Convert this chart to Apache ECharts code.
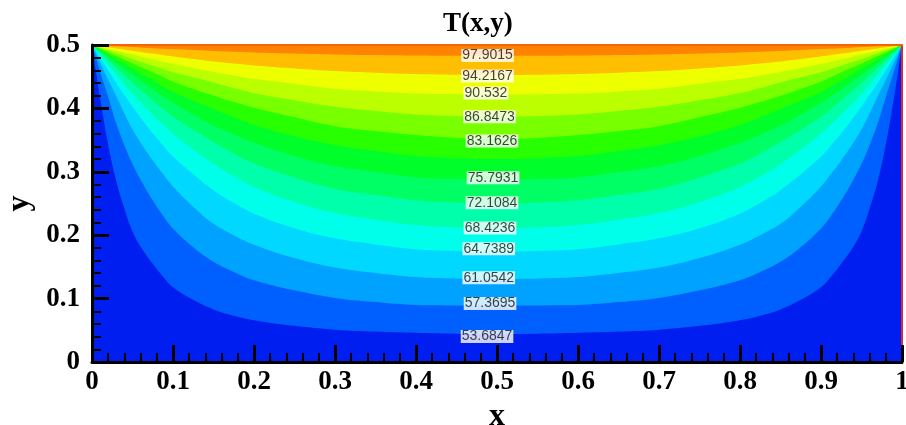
<!DOCTYPE html>
<html>
<head>
<meta charset="utf-8">
<script src="https://cdn.jsdelivr.net/npm/echarts@6/dist/echarts.min.js"></script>
<style>
html,body{margin:0;padding:0;background:#fff;}
#chart{width:906px;height:425px;}
</style>
</head>
<body>
<div id="chart"></div>
<script>
// x positions where each contour line is sampled
const xs = [0, 0.005, 0.01, 0.02, 0.03, 0.04, 0.05, 0.0625, 0.075, 0.0875, 0.1, 0.125, 0.15, 0.175, 0.2, 0.25, 0.3, 0.35, 0.4, 0.45, 0.5, 0.55, 0.6, 0.65, 0.7, 0.75, 0.8, 0.825, 0.85, 0.875, 0.9, 0.9125, 0.925, 0.9375, 0.95, 0.96, 0.97, 0.98, 0.99, 0.995, 1];

// y of each contour level at xs
const t97 = [0.5, 0.4997, 0.4993, 0.4987, 0.498, 0.4973, 0.4967, 0.4958, 0.495, 0.4942, 0.4935, 0.492, 0.4906, 0.4894, 0.4883, 0.4866, 0.4851, 0.4841, 0.4833, 0.4829, 0.4828, 0.4829, 0.4833, 0.4841, 0.4851, 0.4866, 0.4883, 0.4894, 0.4906, 0.492, 0.4935, 0.4942, 0.495, 0.4958, 0.4967, 0.4973, 0.498, 0.4987, 0.4993, 0.4997, 0.5];
const t94 = [0.5, 0.4991, 0.4982, 0.4963, 0.4945, 0.4927, 0.491, 0.4887, 0.4865, 0.4842, 0.482, 0.478, 0.4741, 0.4708, 0.4677, 0.463, 0.4589, 0.4563, 0.4541, 0.453, 0.4526, 0.453, 0.4541, 0.4563, 0.4589, 0.463, 0.4677, 0.4708, 0.4741, 0.478, 0.482, 0.4842, 0.4865, 0.4887, 0.491, 0.4927, 0.4945, 0.4963, 0.4982, 0.4991, 0.5];
const t90 = [0.5, 0.4985, 0.4969, 0.4939, 0.4908, 0.4879, 0.485, 0.481, 0.477, 0.4735, 0.470, 0.4637, 0.4576, 0.452, 0.4467, 0.439, 0.431, 0.4268, 0.4235, 0.4225, 0.422, 0.4225, 0.4235, 0.4268, 0.431, 0.439, 0.4467, 0.452, 0.4576, 0.4637, 0.470, 0.4735, 0.477, 0.481, 0.485, 0.4879, 0.4908, 0.4939, 0.4969, 0.4985, 0.5];
const t86 = [0.5, 0.4978, 0.4956, 0.4912, 0.4868, 0.4824, 0.478, 0.4728, 0.4675, 0.4622, 0.457, 0.449, 0.441, 0.432, 0.424, 0.413, 0.4025, 0.396, 0.3905, 0.388, 0.387, 0.388, 0.3905, 0.396, 0.4025, 0.413, 0.424, 0.432, 0.441, 0.449, 0.457, 0.4622, 0.4675, 0.4728, 0.478, 0.4824, 0.4868, 0.4912, 0.4956, 0.4978, 0.5];
const t83 = [0.5, 0.4971, 0.4942, 0.4883, 0.4825, 0.4768, 0.471, 0.464, 0.457, 0.4495, 0.442, 0.4305, 0.420, 0.410, 0.401, 0.386, 0.372, 0.3645, 0.358, 0.3535, 0.352, 0.3535, 0.358, 0.3645, 0.372, 0.386, 0.401, 0.410, 0.420, 0.4305, 0.442, 0.4495, 0.457, 0.464, 0.471, 0.4768, 0.4825, 0.4883, 0.4942, 0.4971, 0.5];
const t79 = [0.5, 0.4963, 0.4925, 0.485, 0.4775, 0.470, 0.463, 0.4535, 0.444, 0.435, 0.426, 0.412, 0.399, 0.386, 0.374, 0.356, 0.342, 0.333, 0.325, 0.3215, 0.320, 0.3215, 0.325, 0.333, 0.342, 0.356, 0.374, 0.386, 0.399, 0.412, 0.426, 0.435, 0.444, 0.4535, 0.463, 0.470, 0.4775, 0.485, 0.4925, 0.4963, 0.5];
const t75 = [0.5, 0.495, 0.4905, 0.481, 0.4715, 0.462, 0.453, 0.4415, 0.430, 0.4195, 0.409, 0.3905, 0.373, 0.359, 0.346, 0.325, 0.309, 0.2995, 0.291, 0.2888, 0.288, 0.2888, 0.291, 0.2995, 0.309, 0.325, 0.346, 0.359, 0.373, 0.3905, 0.409, 0.4195, 0.430, 0.4415, 0.453, 0.462, 0.4715, 0.481, 0.4905, 0.495, 0.5];
const t72 = [0.5, 0.494, 0.488, 0.476, 0.464, 0.452, 0.440, 0.4265, 0.413, 0.400, 0.387, 0.3665, 0.347, 0.329, 0.313, 0.291, 0.273, 0.2635, 0.255, 0.2515, 0.250, 0.2515, 0.255, 0.2635, 0.273, 0.291, 0.313, 0.329, 0.347, 0.3665, 0.387, 0.400, 0.413, 0.4265, 0.440, 0.452, 0.464, 0.476, 0.488, 0.494, 0.5];
const t68 = [0.5, 0.492, 0.485, 0.469, 0.454, 0.438, 0.423, 0.406, 0.390, 0.375, 0.360, 0.335, 0.312, 0.293, 0.276, 0.252, 0.235, 0.2245, 0.216, 0.2125, 0.211, 0.2125, 0.216, 0.2245, 0.235, 0.252, 0.276, 0.293, 0.312, 0.335, 0.360, 0.375, 0.390, 0.406, 0.423, 0.438, 0.454, 0.469, 0.485, 0.492, 0.5];
const t64 = [0.5, 0.49, 0.48, 0.46, 0.44, 0.421, 0.403, 0.381, 0.361, 0.342, 0.324, 0.296, 0.271, 0.251, 0.234, 0.211, 0.195, 0.1855, 0.178, 0.1752, 0.174, 0.1752, 0.178, 0.1855, 0.195, 0.211, 0.234, 0.251, 0.271, 0.296, 0.324, 0.342, 0.361, 0.381, 0.403, 0.421, 0.44, 0.46, 0.48, 0.49, 0.5];
const t61 = [0.5, 0.486, 0.472, 0.445, 0.419, 0.392, 0.367, 0.341, 0.318, 0.297, 0.277, 0.245, 0.218, 0.200, 0.185, 0.164, 0.149, 0.1405, 0.134, 0.1318, 0.131, 0.1318, 0.134, 0.1405, 0.149, 0.164, 0.185, 0.200, 0.218, 0.245, 0.277, 0.297, 0.318, 0.341, 0.367, 0.392, 0.419, 0.445, 0.472, 0.486, 0.5];
const t57 = [0.5, 0.479, 0.458, 0.418, 0.376, 0.342, 0.3125, 0.282, 0.255, 0.231, 0.2105, 0.181, 0.158, 0.142, 0.129, 0.113, 0.101, 0.0945, 0.090, 0.0893, 0.089, 0.0893, 0.090, 0.0945, 0.101, 0.113, 0.129, 0.142, 0.158, 0.181, 0.2105, 0.231, 0.255, 0.282, 0.3125, 0.342, 0.376, 0.418, 0.458, 0.479, 0.5];
const t53 = [0.5, 0.457, 0.416, 0.343, 0.285, 0.242, 0.206, 0.177, 0.155, 0.135, 0.118, 0.098, 0.083, 0.073, 0.066, 0.057, 0.051, 0.048, 0.046, 0.0445, 0.044, 0.0445, 0.046, 0.048, 0.051, 0.057, 0.066, 0.073, 0.083, 0.098, 0.118, 0.135, 0.155, 0.177, 0.206, 0.242, 0.285, 0.343, 0.416, 0.457, 0.5];

// contour labels
const labelText = ['97.9015', '94.2167', '90.532', '86.8473', '83.1626', '75.7931', '72.1084', '68.4236', '64.7389', '61.0542', '57.3695', '53.6847'];
const labelX = [0.4884, 0.4883, 0.4864, 0.4907, 0.4938, 0.4951, 0.4938, 0.4914, 0.4898, 0.4898, 0.4914, 0.4877];
const labelY = [0.4834, 0.451, 0.4242, 0.387, 0.3484, 0.2907, 0.2512, 0.2112, 0.1788, 0.1327, 0.0924, 0.0403];

// tick labels
const xTicks = [0, 0.1, 0.2, 0.3, 0.4, 0.5, 0.6, 0.7, 0.8, 0.9, 1];
const yTicks = [0, 0.1, 0.2, 0.3, 0.4, 0.5];

const levels = [t97, t94, t90, t86, t83, t79, t75, t72, t68, t64, t61, t57, t53];
const topBand = '#ff8200';
const bandColors = ['#ffbe00', '#eeff00', '#bcff00', '#78ff00', '#28ff00', '#00ff2a', '#00ff64', '#00ffaa', '#00ffea', '#00d8ff', '#00a2ff', '#0060ff', '#001ef0'];

const serif = 'Liberation Serif';
const series = levels.map((lv, i) => ({
  type: 'line',
  data: xs.map((x, j) => [x, lv[j]]),
  symbol: 'none',
  smooth: 0.4,
  lineStyle: { width: 0 },
  areaStyle: { color: bandColors[i], opacity: 1, origin: 'start' },
  silent: true,
  z: 2
}));

series.push({
  type: 'scatter',
  data: labelX.map((x, i) => [x, labelY[i], labelText[i]]),
  symbolSize: 0,
  z: 5,
  silent: true,
  label: {
    show: true,
    position: 'inside',
    formatter: p => p.value[2],
    backgroundColor: '#ffffff',
    color: '#111',
    fontFamily: 'Liberation Sans',
    fontSize: 14,
    lineHeight: 13,
    padding: [0, 1]
  }
});

const axisCommon = {
  type: 'value',
  z: 10,
  splitLine: { show: false },
  axisLine: { show: true, onZero: false, lineStyle: { color: '#000', width: 3 } },
  axisTick: { show: true, inside: true, length: 17, lineStyle: { color: '#000', width: 3 } },
  minorTick: { show: true, splitNumber: 5, length: 9, lineStyle: { color: '#000', width: 2 } },
  nameTextStyle: { fontFamily: serif, fontWeight: 'bold', fontSize: 32, color: '#000' }
};

const chart = echarts.init(document.getElementById('chart'), null, { renderer: 'canvas' });
chart.setOption({
  animation: false,
  backgroundColor: '#fff',
  title: {
    text: 'T(x,y)', left: 438, top: 6,
    textStyle: { fontFamily: serif, fontWeight: 'bold', fontSize: 27, color: '#000' }
  },
  grid: { left: 92, right: 4, top: 45, bottom: 63, show: true, backgroundColor: topBand, borderWidth: 0,
    containLabel: false, outerBoundsMode: 'none' },
  xAxis: [
    Object.assign({}, axisCommon, {
      position: 'bottom', min: xTicks[0], max: xTicks[xTicks.length - 1], interval: 0.1,
      name: 'x', nameLocation: 'middle', nameGap: 28,
      axisLabel: { fontFamily: serif, fontWeight: 'bold', fontSize: 27, color: '#000', margin: 7,
        formatter: v => String(+v.toFixed(2)) }
    }),
    { type: 'value', position: 'top', min: 0, max: 1, z: 9,
      axisLine: { show: true, onZero: false, lineStyle: { color: '#f56400', width: 2 } },
      axisTick: { show: false }, axisLabel: { show: false }, splitLine: { show: false } }
  ],
  yAxis: [
    Object.assign({}, axisCommon, {
      position: 'left', min: yTicks[0], max: yTicks[yTicks.length - 1], interval: 0.1,
      name: 'y', nameLocation: 'middle', nameGap: 50, nameRotate: 90,
      axisLabel: { fontFamily: serif, fontWeight: 'bold', fontSize: 27, color: '#000', margin: 12,
        formatter: v => String(+v.toFixed(2)) }
    }),
    { type: 'value', position: 'right', min: 0, max: 0.5, z: 9,
      axisLine: { show: true, onZero: false, lineStyle: { color: '#e0262b', width: 2 } },
      axisTick: { show: false }, axisLabel: { show: false }, splitLine: { show: false } }
  ],
  series: series
});
</script>
</body>
</html>
